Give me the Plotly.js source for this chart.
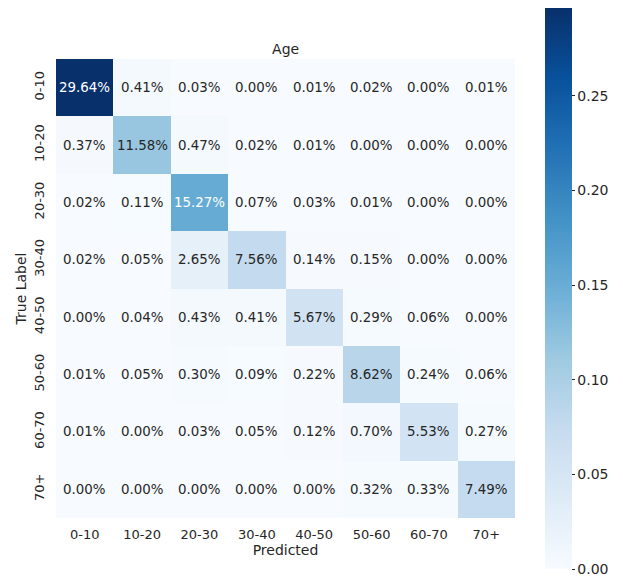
<!DOCTYPE html>
<html>
<head>
<meta charset="utf-8">
<script src="https://cdn.plot.ly/plotly-3.0.1.min.js"></script>
<style>html,body{margin:0;padding:0;background:#fff;}#chart{width:623px;height:579px;}</style>
</head>
<body>
<div id="chart"></div>
<script>
const categories = ["0-10","10-20","20-30","30-40","40-50","50-60","60-70","70+"];
// percentages, rows = true label, cols = predicted
const row_0_10  = [29.64, 0.41, 0.03, 0.00, 0.01, 0.02, 0.00, 0.01];
const row_10_20 = [0.37, 11.58, 0.47, 0.02, 0.01, 0.00, 0.00, 0.00];
const row_20_30 = [0.02, 0.11, 15.27, 0.07, 0.03, 0.01, 0.00, 0.00];
const row_30_40 = [0.02, 0.05, 2.65, 7.56, 0.14, 0.15, 0.00, 0.00];
const row_40_50 = [0.00, 0.04, 0.43, 0.41, 5.67, 0.29, 0.06, 0.00];
const row_50_60 = [0.01, 0.05, 0.30, 0.09, 0.22, 8.62, 0.24, 0.06];
const row_60_70 = [0.01, 0.00, 0.03, 0.05, 0.12, 0.70, 5.53, 0.27];
const row_70p   = [0.00, 0.00, 0.00, 0.00, 0.00, 0.32, 0.33, 7.49];
const rows = [row_0_10, row_10_20, row_20_30, row_30_40, row_40_50, row_50_60, row_60_70, row_70p];
const colorbarTicks = [0, 0.05, 0.10, 0.15, 0.20, 0.25];

const z = rows.map(r => r.map(v => v / 100));
let zmax = 0;
z.forEach(r => r.forEach(v => { if (v > zmax) zmax = v; }));

const blues = [
  [0, "#f7fbff"], [0.125, "#deebf7"], [0.25, "#c6dbef"], [0.375, "#9ecae1"],
  [0.5, "#6baed6"], [0.625, "#4292c6"], [0.75, "#2171b5"], [0.875, "#08519c"], [1, "#08306b"]
];

const annotations = [];
rows.forEach((r, i) => r.forEach((v, j) => {
  const frac = (v / 100) / zmax;
  annotations.push({
    x: categories[j], y: categories[i], xref: "x", yref: "y",
    text: v.toFixed(2) + "%", showarrow: false,
    font: {family: "DejaVu Sans", size: 13.4, color: frac > 0.45 ? "#ffffff" : "#262626"}
  });
}));

const trace = {
  type: "heatmap", x: categories, y: categories, z: z,
  colorscale: blues, zmin: 0, zmax: zmax, xgap: 0, ygap: 0,
  hoverinfo: "skip",
  colorbar: {
    x: 545 / 623, xref: "container", xanchor: "left", y: 0.5, yanchor: "middle",
    xpad: 0, ypad: 0,
    lenmode: "pixels", len: 561, thickness: 27, thicknessmode: "pixels",
    outlinewidth: 0, ticks: "outside", ticklen: 3, tickwidth: 1, tickcolor: "#262626",
    tickvals: colorbarTicks, tickformat: ".2f",
    tickfont: {family: "DejaVu Sans", size: 14, color: "#262626"}
  }
};

const layout = {
  width: 623, height: 579,
  margin: {l: 56, r: 108, t: 59, b: 61, autoexpand: false},
  paper_bgcolor: "#ffffff", plot_bgcolor: "#ffffff",
  font: {family: "DejaVu Sans", color: "#262626"},
  title: {text: "Age", x: 0.4585, xanchor: "center", y: 0.915, yanchor: "middle",
          font: {family: "DejaVu Sans", size: 14, color: "#262626"}},
  xaxis: {
    type: "category", showgrid: false, zeroline: false, showline: false,
    ticks: "outside", ticklen: 4, tickcolor: "rgba(0,0,0,0)",
    tickfont: {family: "DejaVu Sans", size: 13, color: "#262626"},
    title: {text: "Predicted", standoff: 4, font: {family: "DejaVu Sans", size: 14, color: "#262626"}}
  },
  yaxis: {
    type: "category", autorange: "reversed", showgrid: false, zeroline: false, showline: false,
    ticks: "outside", ticklen: 6, tickcolor: "rgba(0,0,0,0)",
    tickangle: -90,
    tickfont: {family: "DejaVu Sans", size: 13, color: "#262626"},
    title: {text: "True Label", standoff: 1, font: {family: "DejaVu Sans", size: 14, color: "#262626"}}
  },
  annotations: annotations
};

Plotly.newPlot("chart", [trace], layout, {displayModeBar: false, staticPlot: true});
</script>
</body>
</html>
